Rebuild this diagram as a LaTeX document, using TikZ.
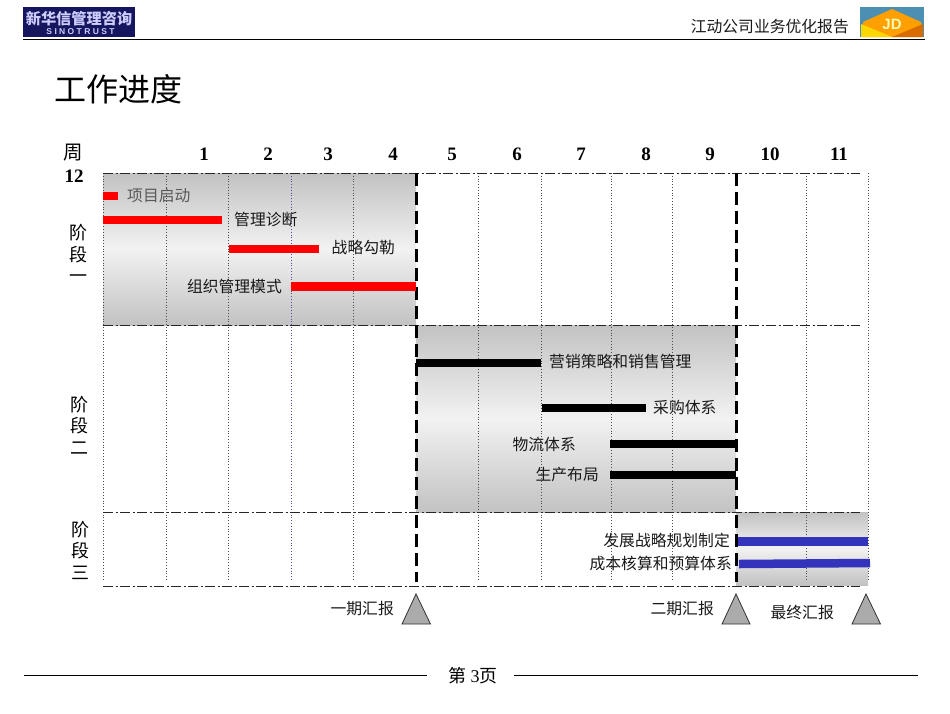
\documentclass[tikz,border=0pt]{standalone}
\usepackage{fontspec}
\setmainfont{Liberation Serif}
\newfontfamily\cjk{Noto Sans CJK SC}
\newfontfamily\arialf{Liberation Sans}
\definecolor{logoblue}{HTML}{16165E}
\definecolor{barblue}{HTML}{3333BB}
\definecolor{trigray}{HTML}{ABABAB}
\definecolor{shadegray}{HTML}{C2C2C2}
\definecolor{midgray}{HTML}{F2F2F2}
\tikzset{
  lab/.style={font=\cjk\fontsize{15.8}{15.8}\selectfont,inner sep=0pt,text=black!90},
  stagelab/.style={font=\cjk\fontsize{18}{21.5}\selectfont,inner sep=0pt,align=center},
  wk/.style={font=\fontsize{19}{19}\selectfont\bfseries,inner sep=0pt},
  griddot/.style={black!70,line width=0.8pt,dotted},
  hdash/.style={black!85,line width=0.8pt,dash pattern=on 10pt off 2.5pt on 2pt off 2.5pt},
  bigdash/.style={black,line width=3pt,dash pattern=on 13pt off 6pt},
  tri/.style={draw=black!80,fill=trigray,line width=0.8pt},
  redbar/.style={fill=red},
  blackbar/.style={fill=black},
  bluebar/.style={draw=barblue,line width=8.5pt},
}
\begin{document}
\begin{tikzpicture}[x=1pt,y=-1pt]
\useasboundingbox[fill=white] (0,0) rectangle (950,713);
% header
\fill[logoblue] (23,7) rectangle (135,37);
\node[inner sep=0pt,text=white!80!blue,font=\cjk\bfseries\fontsize{15.2}{15.2}\selectfont] (logocn) at (79,19) {新华信管理咨询};
\node[inner sep=0pt,text=white!80!blue,font=\arialf\bfseries\fontsize{8.5}{8.5}\selectfont] (logoen) at (80.5,31.5) {S I N O T R U S T};
\draw[black,line width=1.1pt] (23,39.5) -- (925,39.5);
\node[lab,anchor=east] (rep) at (849,26.5) {江动公司业务优化报告};
\fill[blue!35!cyan!40!gray] (860,7) rectangle (924,37);
\fill[orange!75!yellow] (863,22) -- (892,9) -- (921,22) -- (921,37) -- (863,37) -- cycle;
\fill[yellow!75!orange] (861,24) -- (892,37) -- (861,37) -- cycle;
\fill[orange!85!black] (923,24) -- (892,37) -- (923,37) -- cycle;
\node[inner sep=0pt,text=white!70!yellow,font=\arialf\bfseries\fontsize{15}{15}\selectfont] (jd) at (892,24) {JD};
% title
\node[inner sep=0pt,anchor=west,font=\cjk\fontsize{32}{32}\selectfont] (title) at (54.5,89) {工作进度};
% panels
\shade[top color=shadegray,bottom color=shadegray,middle color=midgray] (103,173) rectangle (416,325);
\shade[top color=shadegray,bottom color=shadegray,middle color=midgray] (416,325) rectangle (736,512);
\shade[top color=shadegray,bottom color=shadegray,middle color=midgray] (736,512) rectangle (868,585);
% grid
\foreach \x in {103,166,228,353,478,541,611,672,806,868}
  \draw[griddot] (\x,173) -- (\x,580);
\draw[griddot,blue!50!black!70] (291,173) -- (291,580);
\foreach \y in {173,325,512,586}
  \draw[hdash] (103,\y) -- (860,\y);
\draw[bigdash] (416,173) -- (416,582);
\draw[bigdash] (736,173) -- (736,582);
% week labels
\node[font=\cjk\fontsize{19.5}{19.5}\selectfont,inner sep=0pt] (zhou) at (73.5,153) {周};
\node[wk] (n12) at (74,176) {12};
\foreach \x/\t in {204/1,268/2,328/3,393/4,452/5,517/6,581/7,646/8,710/9,770/10,839/11}
  \node[wk] (w\t) at (\x,154) {\t};
% stage labels
\node[stagelab] (s1) at (78,253.5) {阶\\段\\一};
\node[stagelab] (s2) at (79,425) {阶\\段\\二};
\node[stagelab] (s3) at (80,550) {阶\\段\\三};
% bars
\fill[redbar] (103,192) rectangle (118,200);
\fill[redbar] (103,215.5) rectangle (222,224);
\fill[redbar] (229,245) rectangle (319,253);
\fill[redbar] (291,282) rectangle (416,290.5);
\fill[blackbar] (416,358.5) rectangle (541,367);
\fill[blackbar] (542,403.5) rectangle (646,412);
\fill[blackbar] (610,439.5) rectangle (736,448);
\fill[blackbar] (610,470.5) rectangle (736,479);
\draw[bluebar] (738,541.5) -- (868,541.5);
\draw[bluebar] (739,564) -- (870,563);
% bar labels
\node[lab,anchor=west,text=black!65] (a1) at (127,195) {项目启动};
\node[lab,anchor=west] (a2) at (234,219) {管理诊断};
\node[lab,anchor=west] (a3) at (331.5,247) {战略勾勒};
\node[lab,anchor=east] (a4) at (282,286) {组织管理模式};
\node[lab,anchor=west] (b1) at (549,361.5) {营销策略和销售管理};
\node[lab,anchor=west] (b2) at (653,407) {采购体系};
\node[lab,anchor=east] (b3) at (576,444.5) {物流体系};
\node[lab,anchor=east] (b4) at (599,474.5) {生产布局};
\node[lab,anchor=east] (c1) at (730,540.5) {发展战略规划制定};
\node[lab,anchor=east] (c2) at (732,563.5) {成本核算和预算体系};
% milestones
\node[lab,anchor=east] (m1) at (394,609) {一期汇报};
\node[lab,anchor=east] (m2) at (714,609) {二期汇报};
\node[lab,anchor=east] (m3) at (834,612) {最终汇报};
\draw[tri] (416,594) -- (430.5,624) -- (402,624) -- cycle;
\draw[tri] (736,594) -- (750,624) -- (722,624) -- cycle;
\draw[tri] (866,594) -- (880.5,624) -- (852,624) -- cycle;
% footer
\node[inner sep=0pt,font=\cjk\fontsize{18}{18}\selectfont] (page) at (473,676) {第 {\rmfamily 3}页};
\coordinate (fl1) at (24,675.5);
\coordinate (fl2) at (427,675.5);
\coordinate (fr1) at (514,675.5);
\coordinate (fr2) at (918,675.5);
\draw[black,line width=1pt] (fl1) -- (fl2);
\draw[black,line width=1pt] (fr1) -- (fr2);
\end{tikzpicture}
\end{document}
